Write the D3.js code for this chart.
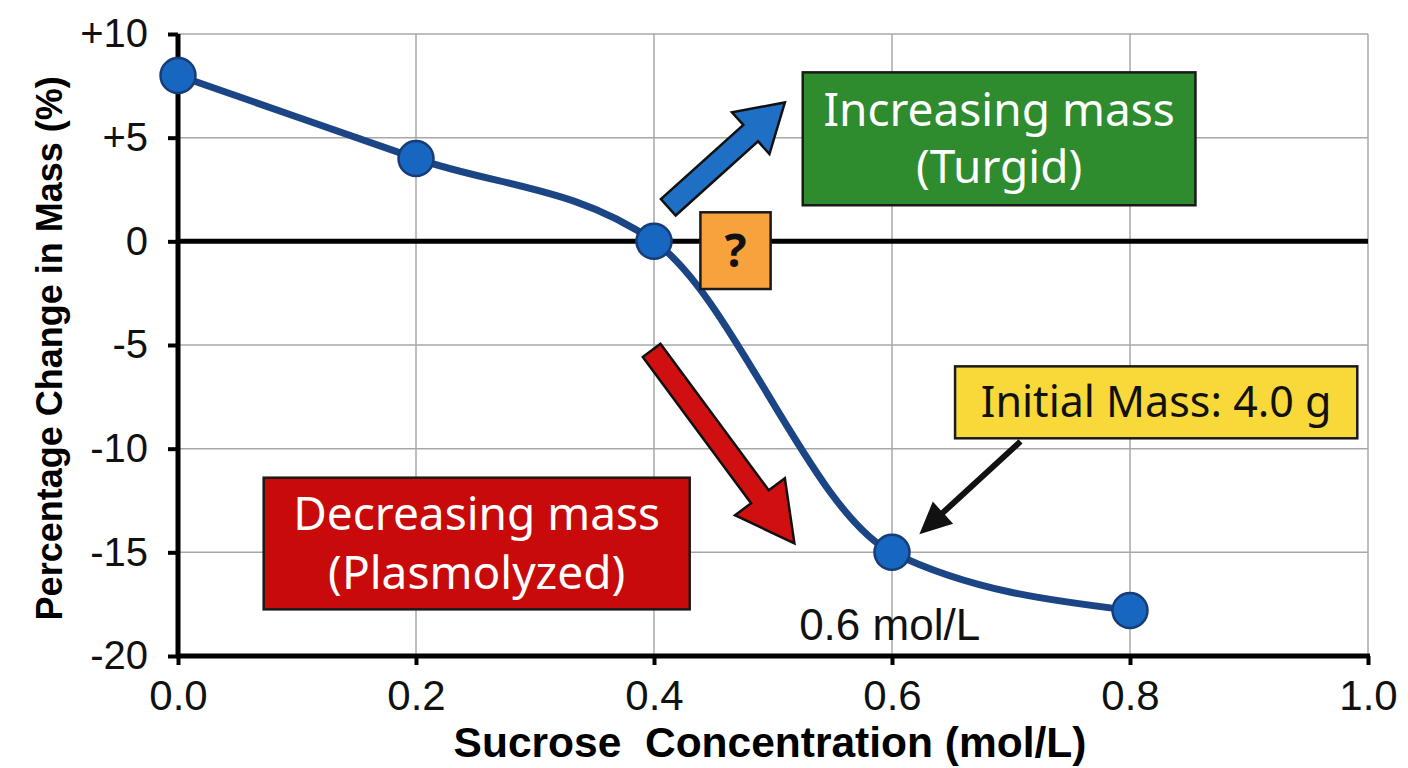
<!DOCTYPE html>
<html>
<head>
<meta charset="utf-8">
<script src="https://cdn.jsdelivr.net/npm/d3@7"></script>
<style>
  body { margin: 0; background: #fff; }
  svg { display: block; }
  .tick text { font-family: "Liberation Sans", Arial, sans-serif; fill: #111; }
  .grid line { stroke: #a8a8a8; stroke-width: 1.5; }
  .box-text { font-family: "Noto Sans", sans-serif; }
</style>
</head>
<body>
<div id="graph"></div>
<script>
// data
var concentration = [0.0, 0.2, 0.4, 0.6, 0.8];
var massChange = [8, 4, 0, -15, -17.8];
var xTicks = [0.0, 0.2, 0.4, 0.6, 0.8, 1.0];
var yTicks = [10, 5, 0, -5, -10, -15, -20];
var yTickLabels = ["+10", "+5", "0", "-5", "-10", "-15", "-20"];

// annotations (data units)
var labelBoxes = [
  {x0: 0.525, x1: 0.855, y0: 8.15, y1: 1.74, fill: "#2e8b2e", color: "#fff", lines: ["Increasing mass", "(Turgid)"], size: 46, gap: 57},
  {x0: 0.072, x1: 0.430, y0: -11.4, y1: -17.75, fill: "#c80a0a", color: "#fff", lines: ["Decreasing mass", "(Plasmolyzed)"], size: 46, gap: 59},
  {x0: 0.653, x1: 0.991, y0: -6.03, y1: -9.5, fill: "#f9d839", color: "#111", lines: ["Initial Mass: 4.0 g"], size: 43, gap: 0},
  {x0: 0.439, x1: 0.498, y0: 1.4, y1: -2.3, fill: "#f7a23c", color: "#111", lines: ["?"], size: 46, gap: 0, bold: true}
];
var blockArrows = [
  {from: [0.412, 1.64], to: [0.510, 6.7], fill: "#1f6fc5", shaft: 22, head: 56, headLen: 46},
  {from: [0.398, -5.26], to: [0.518, -14.57], fill: "#d01010", shaft: 22, head: 62, headLen: 58}
];
var pointerArrow = {from: [0.708, -9.65], to: [0.623, -14.13]};
var pointLabel = {x: 0.598, y: -18.5, text: "0.6 mol/L"};

var margin = {top: 34, right: 40, bottom: 112, left: 178},
    width = 1368 - 178,
    height = 656 - 34;

var xScale = d3.scaleLinear().domain([0, 1]).range([0, width]);
var yScale = d3.scaleLinear().domain([-20, 10]).range([height, 0]);

var svg = d3.select("#graph").append("svg")
    .attr("width", 1408)
    .attr("height", 768)
    .append("g")
    .attr("transform", "translate(" + margin.left + "," + margin.top + ")");

// grid
var grid = svg.append("g").attr("class", "grid");
grid.selectAll("line.v").data(xTicks.slice(1)).enter().append("line")
    .attr("x1", function(d) { return xScale(d); }).attr("x2", function(d) { return xScale(d); })
    .attr("y1", 0).attr("y2", height);
grid.selectAll("line.h").data(yTicks.filter(function(d) { return d !== 0 && d !== -20; })).enter().append("line")
    .attr("x1", 0).attr("x2", width)
    .attr("y1", function(d) { return yScale(d); }).attr("y2", function(d) { return yScale(d); });

// axes
var xAxis = svg.append("g")
    .attr("transform", "translate(0," + height + ")")
    .call(d3.axisBottom(xScale).tickValues(xTicks).tickFormat(d3.format(".1f")).tickSize(9).tickPadding(15));
var yAxis = svg.append("g")
    .call(d3.axisLeft(yScale).tickValues(yTicks).tickFormat(function(d, i) { return yTickLabels[i]; }).tickSize(10).tickPadding(20));
[xAxis, yAxis].forEach(function(ax) {
  ax.select(".domain").remove();
  ax.selectAll(".tick line").attr("stroke", "#000").attr("stroke-width", 4);
});
xAxis.selectAll(".tick text").style("font-size", "42px");
yAxis.selectAll(".tick text").style("font-size", "40px");
svg.append("line").attr("x1", -2).attr("x2", width + 2).attr("y1", height).attr("y2", height)
    .attr("stroke", "#000").attr("stroke-width", 5);
svg.append("line").attr("x1", 0).attr("x2", 0).attr("y1", 0).attr("y2", height + 2)
    .attr("stroke", "#000").attr("stroke-width", 5);
// zero line
svg.append("line").attr("x1", 0).attr("x2", width).attr("y1", yScale(0)).attr("y2", yScale(0))
    .attr("stroke", "#000").attr("stroke-width", 5);

// axis titles
svg.append("text")
    .attr("text-anchor", "middle")
    .attr("transform", "translate(" + (xScale(0.4975)) + "," + (height + 101) + ")")
    .style("font-family", "'Liberation Sans', Arial, sans-serif").style("font-weight", "bold").style("font-size", "42.5px")
    .style("white-space", "pre")
    .text("Sucrose  Concentration (mol/L)");
svg.append("text")
    .attr("text-anchor", "middle")
    .attr("transform", "translate(" + (-116) + "," + (yScale(-5.16)) + ")rotate(-90)")
    .style("font-family", "'Liberation Sans', Arial, sans-serif").style("font-weight", "bold").style("font-size", "36px")
    .text("Percentage Change in Mass (%)");

// curve
var data = d3.range(concentration.length).map(function(i) { return {x: concentration[i], y: massChange[i]}; });
var line = d3.line()
    .x(function(d) { return xScale(d.x); })
    .y(function(d) { return yScale(d.y); })
    .curve(d3.curveMonotoneX);
svg.append("path").datum(data)
    .attr("d", line).attr("fill", "none").attr("stroke", "#1c4585").attr("stroke-width", 7);

// block arrows
function arrowPoints(a) {
  var x0 = xScale(a.from[0]), y0 = yScale(a.from[1]), x1 = xScale(a.to[0]), y1 = yScale(a.to[1]);
  var dx = x1 - x0, dy = y1 - y0, L = Math.sqrt(dx * dx + dy * dy);
  var ux = dx / L, uy = dy / L, nx = -uy, ny = ux;
  var bx = x1 - ux * a.headLen, by = y1 - uy * a.headLen;
  var s = a.shaft / 2, h = a.head / 2;
  return [
    [x0 + nx * s, y0 + ny * s], [bx + nx * s, by + ny * s], [bx + nx * h, by + ny * h], [x1, y1],
    [bx - nx * h, by - ny * h], [bx - nx * s, by - ny * s], [x0 - nx * s, y0 - ny * s]
  ].map(function(p) { return p.join(","); }).join(" ");
}
svg.selectAll("polygon.block").data(blockArrows).enter().append("polygon")
    .attr("points", arrowPoints)
    .attr("fill", function(d) { return d.fill; })
    .attr("stroke", "#111").attr("stroke-width", 2.5).attr("stroke-linejoin", "miter");

// pointer arrow
svg.append("polygon")
    .attr("points", arrowPoints({from: pointerArrow.from, to: pointerArrow.to, shaft: 6, head: 30, headLen: 32}))
    .attr("fill", "#111");

// label boxes
var boxes = svg.selectAll("g.box").data(labelBoxes).enter().append("g");
boxes.append("rect")
    .attr("x", function(d) { return xScale(d.x0); })
    .attr("y", function(d) { return yScale(d.y0); })
    .attr("width", function(d) { return xScale(d.x1) - xScale(d.x0); })
    .attr("height", function(d) { return yScale(d.y1) - yScale(d.y0); })
    .attr("fill", function(d) { return d.fill; })
    .attr("stroke", "#1a1a1a").attr("stroke-width", 2.5);
boxes.each(function(d) {
  var g = d3.select(this);
  var cx = (xScale(d.x0) + xScale(d.x1)) / 2;
  var cy = (yScale(d.y0) + yScale(d.y1)) / 2;
  d.lines.forEach(function(t, i) {
    g.append("text")
        .attr("class", "box-text")
        .attr("x", cx)
        .attr("y", cy + (i - (d.lines.length - 1) / 2) * d.gap)
        .attr("dy", "0.35em")
        .attr("text-anchor", "middle")
        .style("font-size", d.size + "px")
        .style("font-weight", d.bold ? "bold" : "normal")
        .style("fill", d.color)
        .text(t);
  });
});

// markers
svg.selectAll("circle.pt").data(data).enter().append("circle")
    .attr("cx", function(d) { return xScale(d.x); })
    .attr("cy", function(d) { return yScale(d.y); })
    .attr("r", 17.5)
    .attr("fill", "#1766c0")
    .attr("stroke", "#173d78").attr("stroke-width", 2.5);

// point label
svg.append("text")
    .attr("x", xScale(pointLabel.x)).attr("y", yScale(pointLabel.y))
    .attr("dy", "0.35em").attr("text-anchor", "middle")
    .style("font-family", "'Liberation Sans', Arial, sans-serif").style("font-size", "44px").style("fill", "#111")
    .text(pointLabel.text);
</script>
</body>
</html>
